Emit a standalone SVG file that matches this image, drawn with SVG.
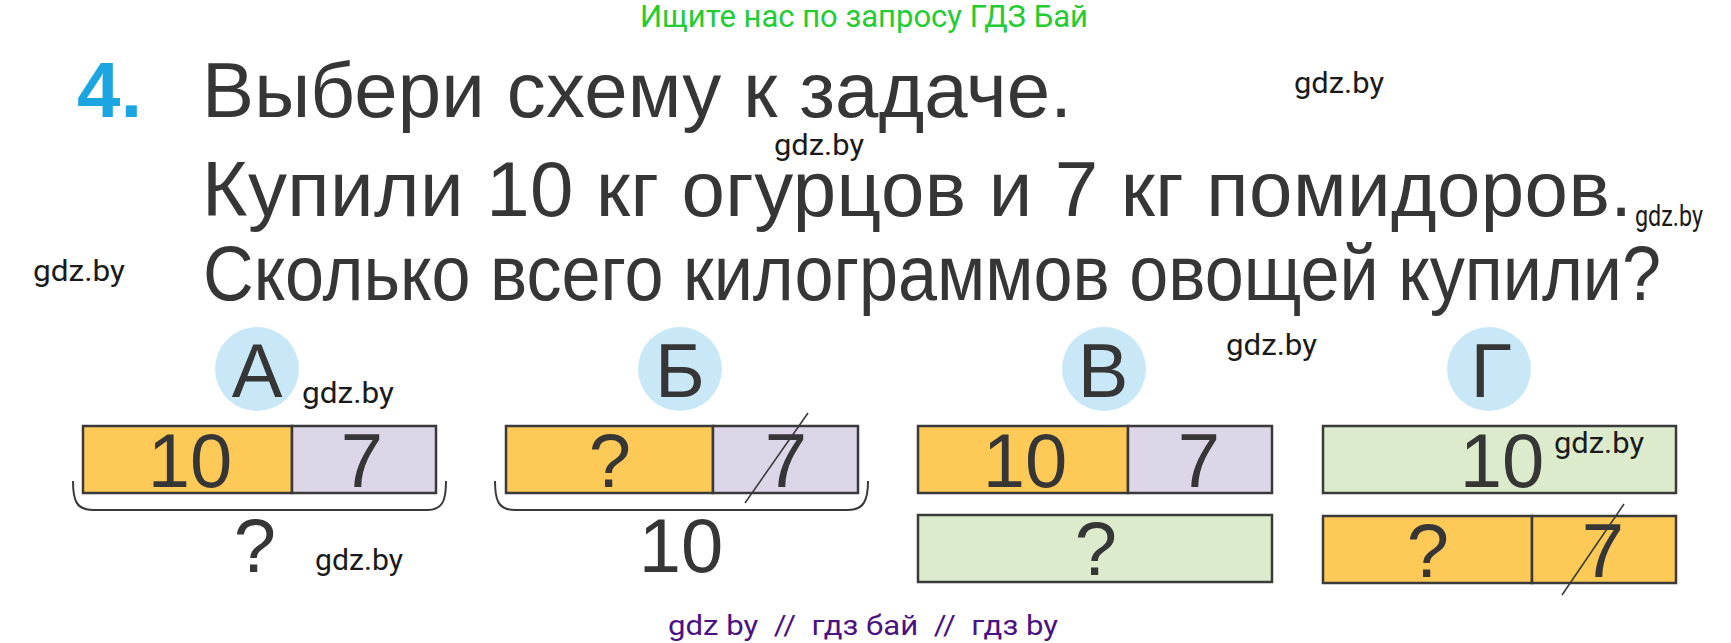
<svg xmlns="http://www.w3.org/2000/svg" width="1731" height="643" viewBox="0 0 1731 643">
<style>
.main{font-family:"Liberation Sans",Arial,sans-serif;font-size:78px;fill:#363636}
.num{font-family:"Liberation Sans",Arial,sans-serif;font-size:76px;fill:#363636;text-anchor:middle}
.wm{font-family:Roboto,"Liberation Sans",sans-serif;font-size:30px;fill:#1a1a1a}
.box{stroke:#3a3a3a;stroke-width:2.5}
.or{fill:#fdca57}
.lv{fill:#ddd6e9}
.gr{fill:#ddebcd}
.circ{fill:#c8e8f8}
.brace{fill:none;stroke:#3a3a3a;stroke-width:2}
.slash{stroke:#3a3a3a;stroke-width:1.6}
</style>
<rect width="1731" height="643" fill="#ffffff"/>
<g id="header">
<text x="640" y="27" font-family="Roboto,'Liberation Sans',sans-serif" font-size="31" fill="#22cc33" textLength="448" lengthAdjust="spacingAndGlyphs">Ищите нас по запросу ГДЗ Бай</text>
<text x="77" y="117" font-family="'Liberation Sans',Arial,sans-serif" font-size="78" font-weight="bold" fill="#1ca6e1">4.</text>
<text class="main" x="202" y="117" textLength="870" lengthAdjust="spacing">Выбери схему к задаче.</text>
<text class="main" x="202" y="216" textLength="1430" lengthAdjust="spacing">Купили 10 кг огурцов и 7 кг помидоров.</text>
<text class="main" x="203" y="300" textLength="1458" lengthAdjust="spacingAndGlyphs">Сколько всего килограммов овощей купили?</text>
</g>
<g id="watermarks">
<text class="wm" x="1294" y="93" textLength="90" lengthAdjust="spacingAndGlyphs">gdz.by</text>
<text class="wm" x="774" y="155" textLength="90" lengthAdjust="spacingAndGlyphs">gdz.by</text>
<text class="wm" x="1635" y="226" font-size="23" textLength="68" lengthAdjust="spacingAndGlyphs">gdz.by</text>
<text class="wm" x="33" y="281" textLength="92" lengthAdjust="spacingAndGlyphs">gdz.by</text>
<text class="wm" x="1226" y="355" textLength="91" lengthAdjust="spacingAndGlyphs">gdz.by</text>
<text x="668" y="635" font-family="Roboto,'Liberation Sans',sans-serif" font-size="27" fill="#4a1282" textLength="390" lengthAdjust="spacingAndGlyphs" xml:space="preserve">gdz by  //  гдз бай  //  гдз by</text>
</g>
<g id="scheme-A">
<circle class="circ" cx="257" cy="369" r="42"/>
<text class="num" x="257" y="397">А</text>
<text class="wm" x="302" y="403" textLength="92" lengthAdjust="spacingAndGlyphs">gdz.by</text>
<rect class="box or" x="83" y="426" width="209" height="67"/>
<rect class="box lv" x="292" y="426" width="144" height="67"/>
<text class="num" x="190" y="487">10</text>
<text class="num" x="362" y="487">7</text>
<text class="num" x="255" y="572">?</text>
<text class="wm" x="315" y="570" textLength="88" lengthAdjust="spacingAndGlyphs">gdz.by</text>
</g>
<g id="scheme-B">
<circle class="circ" cx="680" cy="369" r="42"/>
<text class="num" x="680" y="397">Б</text>
<rect class="box or" x="506" y="426" width="207" height="67"/>
<rect class="box lv" x="713" y="426" width="145" height="67"/>
<text class="num" x="610" y="487">?</text>
<text class="num" x="786" y="487">7</text>
<text class="num" x="681" y="572">10</text>
</g>
<g id="scheme-V">
<circle class="circ" cx="1104" cy="369" r="42"/>
<text class="num" x="1103" y="397">В</text>
<rect class="box or" x="918" y="426" width="210" height="67"/>
<rect class="box lv" x="1128" y="426" width="144" height="67"/>
<text class="num" x="1025" y="487">10</text>
<text class="num" x="1199" y="487">7</text>
<rect class="box gr" x="918" y="515" width="354" height="67"/>
<text class="num" x="1096" y="575">?</text>
</g>
<g id="scheme-G">
<circle class="circ" cx="1489" cy="369" r="42"/>
<text class="num" x="1491" y="397">Г</text>
<rect class="box gr" x="1323" y="426" width="353" height="67"/>
<text class="num" x="1502" y="487">10</text>
<text class="wm" x="1554" y="453" textLength="90" lengthAdjust="spacingAndGlyphs">gdz.by</text>
<rect class="box or" x="1323" y="516" width="209" height="67"/>
<rect class="box or" x="1532" y="516" width="144" height="67"/>
<text class="num" x="1428" y="577">?</text>
<text class="num" x="1603" y="577">7</text>
</g>
<g id="connectors">
<path class="brace" d="M73,481 C73,500 76,510 93,510 L427,510 C443,510 446,500 446,481"/>
<path class="brace" d="M495,481 C495,500 498,510 515,510 L848,510 C864,510 868,500 868,481"/>
<line class="slash" x1="808" y1="413" x2="745" y2="503"/>
<line class="slash" x1="1624" y1="504" x2="1562" y2="595"/>
</g>
</svg>
